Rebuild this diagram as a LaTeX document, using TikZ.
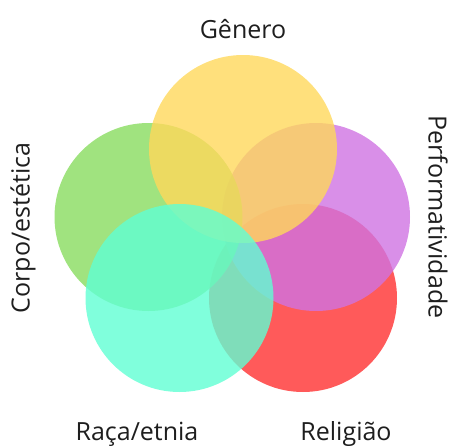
\documentclass[tikz,border=0pt]{standalone}
\usepackage{fontspec}
\setmainfont{Open Sans}
\definecolor{cyel}{RGB}{255,216,91}
\definecolor{cgrn}{RGB}{136,220,95}
\definecolor{cpur}{RGB}{207,115,226}
\definecolor{cred}{RGB}{255,49,49}
\definecolor{cteal}{RGB}{96,255,211}
\definecolor{ctext}{RGB}{30,30,30}
\tikzset{
  blob/.style={circle, minimum size=188pt, inner sep=0pt, fill opacity=0.8, draw=none},
  lbl/.style={font=\fontsize{25}{29}\selectfont, text=ctext, inner sep=0pt}
}
\begin{document}
\begin{tikzpicture}[x=1pt,y=-1pt]
\useasboundingbox (0,0) rectangle (451,447);
\node[blob, fill=cred]  (religiao) at (303,298) {};
\node[blob, fill=cpur]  (perf) at (316,217) {};
\node[blob, fill=cgrn]  (corpo) at (148.5,217) {};
\node[blob, fill=cyel]  (genero) at (243,149) {};
\node[blob, fill=cteal] (raca) at (179.5,298) {};
\node[lbl] (tgen) at (243,29) {Gênero};
\node[lbl, rotate=90] (tcorpo) at (23,228) {Corpo/estética};
\node[lbl, rotate=-90] (tperf) at (438,217) {Performatividade};
\node[lbl, anchor=base] (traca) at (137,440) {Raça/etnia};
\node[lbl, anchor=base] (trel) at (346,440) {Religião};
\end{tikzpicture}
\end{document}
